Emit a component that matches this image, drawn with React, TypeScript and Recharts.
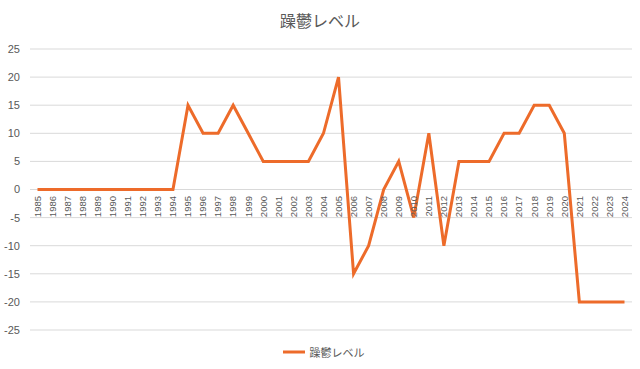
import React from "react";
import { LineChart, Line, XAxis, YAxis, CartesianGrid, Legend } from "recharts";

const years: string[] = [
  "1985","1986","1987","1988","1989","1990","1991","1992","1993","1994",
  "1995","1996","1997","1998","1999","2000","2001","2002","2003","2004",
  "2005","2006","2007","2008","2009","2010","2011","2012","2013","2014",
  "2015","2016","2017","2018","2019","2020","2021","2022","2023","2024",
];
const levels: number[] = [
  0, 0, 0, 0, 0, 0, 0, 0, 0, 0,
  15, 10, 10, 15, 10, 5, 5, 5, 5, 10,
  20, -15, -10, 0, 5, -5, 10, -10, 5, 5,
  5, 10, 10, 15, 15, 10, -20, -20, -20, -20,
];
const yTicks: number[] = [-25, -20, -15, -10, -5, 0, 5, 10, 15, 20, 25];
const seriesName = "躁鬱レベル";
const title = "躁鬱レベル";

const data = years.map((y, i) => ({ year: y, value: levels[i] }));

const W = 640;
const H = 369;
const MARGIN = { top: 49, right: 8, bottom: 22, left: 0 };
const PLOT_H = 280;
const FONT = '"Liberation Sans", "Noto Sans CJK JP", Arial, sans-serif';
const ORANGE = "#ED6B2A";
const TEXT = "#595959";

const XTick = (props: any) => {
  const { x, y, payload } = props;
  const ay = y - PLOT_H / 2 - 2;
  return (
    <text
      x={x}
      y={ay}
      transform={`rotate(-90, ${x}, ${ay})`}
      textAnchor="end"
      dy="0.35em"
      fontSize={9.5}
      fill={TEXT}
      fontFamily={FONT}
    >
      {payload.value}
    </text>
  );
};

const LegendContent = () => (
  <div
    style={{
      display: "flex",
      alignItems: "center",
      justifyContent: "center",
      fontFamily: FONT,
      fontSize: 11,
      color: TEXT,
      paddingLeft: 6,
    }}
  >
    <svg width={24} height={6} style={{ marginRight: 4 }}>
      <line x1={1} y1={3} x2={23} y2={3} stroke={ORANGE} strokeWidth={3} />
    </svg>
    <span>{seriesName}</span>
  </div>
);

export default function App() {
  return (
    <div style={{ position: "absolute", left: 0, top: 0, width: W, height: H, background: "#fff" }}>
      <div
        style={{
          position: "absolute",
          top: 8,
          left: 0,
          width: W,
          textAlign: "center",
          fontFamily: FONT,
          fontSize: 16,
          color: TEXT,
        }}
      >
        {title}
      </div>
      <LineChart width={W} height={H} data={data} margin={MARGIN}>
        <CartesianGrid vertical={false} stroke="#d9d9d9" strokeWidth={1} />
        <XAxis
          dataKey="year"
          interval={0}
          axisLine={false}
          tickLine={false}
          tick={<XTick />}
          height={1}
          padding={{ left: 7.5, right: 7.5 }}
        />
        <YAxis
          domain={[-25, 25]}
          ticks={yTicks}
          interval={0}
          width={30}
          axisLine={false}
          tickLine={false}
          tickSize={0}
          tickMargin={10}
          tick={{ fontSize: 11, fill: TEXT, fontFamily: FONT }}
        />
        <Legend
          verticalAlign="bottom"
          content={<LegendContent />}
          wrapperStyle={{ position: "absolute", top: 344, left: 0, width: W, height: 16 }}
        />
        <Line
          type="linear"
          dataKey="value"
          name={seriesName}
          stroke={ORANGE}
          strokeWidth={3}
          dot={false}
          isAnimationActive={false}
        />
      </LineChart>
    </div>
  );
}
